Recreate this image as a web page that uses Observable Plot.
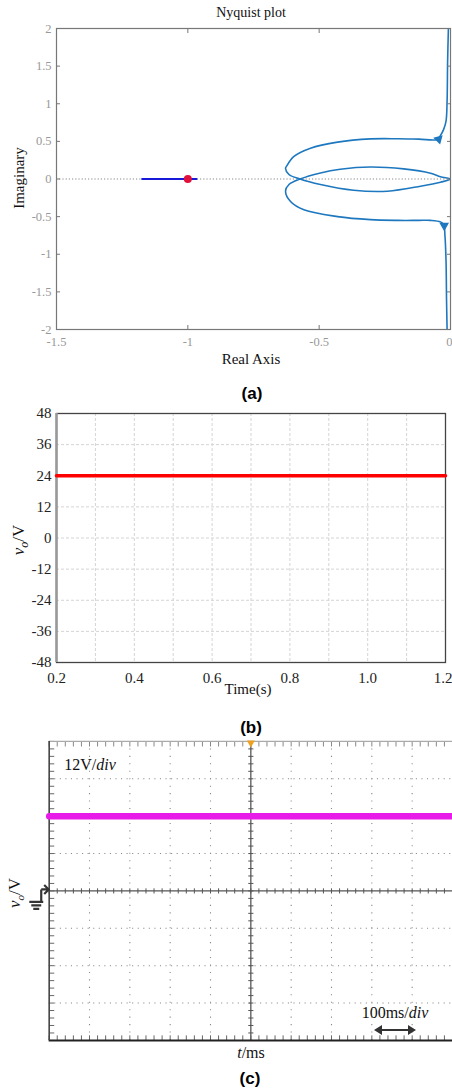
<!DOCTYPE html>
<html><head><meta charset="utf-8">
<script src="https://cdn.jsdelivr.net/npm/d3@7"></script>
<script src="https://cdn.jsdelivr.net/npm/@observablehq/plot@0.6"></script>
<style>
html,body{margin:0;padding:0;background:#fff;overflow:hidden;}
#root{position:relative;width:452px;height:1088px;overflow:hidden;background:#fff;}
.panel{position:absolute;left:0;}
.lbl{position:absolute;font-family:"Liberation Serif","Times New Roman",serif;color:#111;white-space:nowrap;transform:translate(-50%,-50%);line-height:1;}
.rot{transform:translate(-50%,-50%) rotate(-90deg);}
.cap{position:absolute;font-family:"Liberation Sans",Arial,sans-serif;font-weight:bold;font-size:17px;color:#000;transform:translate(-50%,-50%);line-height:1;}
</style>
</head><body>
<div id="root">
  <div class="panel" id="pa" style="top:0"></div>
  <div class="panel" id="pb" style="top:400px"></div>
  <div class="panel" id="pc" style="top:730px"></div>

  <div class="lbl" style="left:251px;top:13px;font-size:14px;">Nyquist plot</div>
  <div class="lbl rot" style="left:19px;top:178px;font-size:15px;">Imaginary</div>
  <div class="lbl" style="left:251px;top:359px;font-size:15px;">Real Axis</div>
  <div class="cap" style="left:252px;top:393px;">(a)</div>

  <div class="lbl rot" style="left:20px;top:540px;font-size:17px;"><i>v<sub style="font-size:12px">o</sub></i>/V</div>
  <div class="lbl" style="left:248px;top:689px;font-size:15px;">Time(s)</div>
  <div class="cap" style="left:251px;top:727px;">(b)</div>

  <div class="lbl" style="left:90px;top:765px;font-size:16px;">12V/<i>div</i></div>
  <div class="lbl rot" style="left:16px;top:893px;font-size:17px;"><i>v<sub style="font-size:11px">o</sub></i>/V</div>
  <div class="lbl" style="left:395px;top:1013px;font-size:16px;">100ms/<i>div</i></div>
  <svg style="position:absolute;left:374px;top:1024px" width="42" height="12">
    <line x1="5" y1="6" x2="37" y2="6" stroke="#333" stroke-width="2"/>
    <path d="M0,6L8,1L8,11Z M42,6L34,1L34,11Z" fill="#333"/>
  </svg>
  <div class="lbl" style="left:251px;top:1053px;font-size:16px;"><i>t</i>/ms</div>
  <div class="cap" style="left:250px;top:1078px;">(c)</div>
</div>
<script>
// ---------- Panel (a): Nyquist plot ----------
const nyqRe = [-0.008, -0.011, -0.013, -0.017, -0.026, -0.038, -0.05, -0.12, -0.2, -0.305, -0.43, -0.533, -0.596, -0.624, -0.628, -0.615, -0.573, -0.495, -0.369, -0.24, -0.114, -0.038, 0,
  -0.038, -0.076, -0.178, -0.305, -0.42, -0.495, -0.573, -0.615, -0.628, -0.609, -0.558, -0.43, -0.305, -0.2, -0.12, -0.076, -0.038, -0.026, -0.021, -0.017, -0.015, -0.013];
const nyqIm = [2.0, 1.56, 1.03, 0.77, 0.66, 0.58, 0.525, 0.53, 0.535, 0.533, 0.49, 0.41, 0.30, 0.17, 0.14, 0.06, 0, -0.073, -0.149, -0.162, -0.096, -0.043, 0,
  0.03, 0.077, 0.134, 0.16, 0.13, 0.081, 0, -0.073, -0.16, -0.3, -0.41, -0.50, -0.54, -0.55, -0.55, -0.55, -0.57, -0.605, -0.76, -1.09, -1.62, -2.0];
const arrowRe = [-0.045, -0.024];
const arrowIm = [0.53, -0.62];
const arrowRot = [165, 180];
const critSegRe = [-1.174, -0.967];
const critSegIm = [0, 0];
const critPtRe = [-1];
const critPtIm = [0];
const aXTicks = [-1.5, -1, -0.5, 0];
const aYTicks = [-2, -1.5, -1, -0.5, 0, 0.5, 1, 1.5, 2];

// ---------- Panel (b): simulation ----------
const simTime = [0.2, 0.4, 0.6, 0.8, 1.0, 1.2];
const simVo = [24, 24, 24, 24, 24, 24];
const bXTicks = [0.2, 0.4, 0.6, 0.8, 1.0, 1.2];
const bXGrid = [0.3, 0.4, 0.5, 0.6, 0.7, 0.8, 0.9, 1.0, 1.1];
const bYTicks = [-48, -36, -24, -12, 0, 12, 24, 36, 48];

// ---------- Panel (c): oscilloscope ----------
const scopeTime = [0, 200, 400, 600, 800, 1000];
const scopeVo = [24, 24, 24, 24, 24, 24];
const scopeDivT = [100, 200, 300, 400, 600, 700, 800, 900];
const scopeDivV = [-36, -24, -12, 12, 24, 36];
const scopeMinorT = d3.range(0, 1001, 20);
const scopeMinorV = d3.range(-48, 48.01, 2.4);

const serif = '"Liberation Serif","Times New Roman",serif';

const nyq = nyqRe.map((r, i) => ({re: r, im: nyqIm[i]}));
const arrows = arrowRe.map((r, i) => ({re: r, im: arrowIm[i], rot: arrowRot[i]}));
const crit = critSegRe.map((r, i) => ({re: r, im: critSegIm[i]}));
const critPt = critPtRe.map((r, i) => ({re: r, im: critPtIm[i]}));

const pa = Plot.plot({
  width: 452, height: 380,
  marginLeft: 56, marginRight: 2, marginTop: 28, marginBottom: 51,
  x: {domain: [-1.5, 0]},
  y: {domain: [-2, 2]},
  style: {fontFamily: serif, fontSize: "12.5px", background: "transparent", overflow: "visible"},
  marks: [
    Plot.ruleY([0], {stroke: "#8a8a8a", strokeWidth: 1.2, strokeDasharray: "1.2,2"}),
    Plot.line(crit, {x: "re", y: "im", stroke: "#1818d8", strokeWidth: 2}),
    Plot.dot(critPt, {x: "re", y: "im", r: 4, fill: "#e0103a", stroke: "none"}),
    Plot.line(nyq, {x: "re", y: "im", stroke: "#1e78bf", strokeWidth: 1.6, curve: "catmull-rom", clip: true}),
    Plot.dot(arrows, {x: "re", y: "im", symbol: "triangle", rotate: "rot", r: 3.6, fill: "#1e78bf", stroke: "none"}),
    Plot.frame({stroke: "#777", strokeWidth: 1.2}),
    Plot.axisX({anchor: "bottom", ticks: aXTicks, tickSize: -4, fill: "none", stroke: "#777", label: null}),
    Plot.axisX({anchor: "top", ticks: aXTicks, tickSize: -4, fill: "none", stroke: "#777", label: null}),
    Plot.axisY({anchor: "left", ticks: aYTicks, tickSize: -4, fill: "none", stroke: "#777", label: null}),
    Plot.axisY({anchor: "right", ticks: aYTicks, tickSize: -4, fill: "none", stroke: "#777", label: null}),
    Plot.axisX({anchor: "bottom", ticks: aXTicks.slice(0, -1), tickSize: 0, tickPadding: 8, stroke: "none", fill: "#999", fontFamily: serif, tickFormat: d => String(d), label: null}),
    Plot.axisX({anchor: "bottom", ticks: aXTicks.slice(-1), tickSize: 0, tickPadding: 8, stroke: "none", fill: "#999", fontFamily: serif, textAnchor: "end", dx: 2, tickFormat: d => String(d), label: null}),
    Plot.axisY({anchor: "left", ticks: aYTicks, tickSize: 0, tickPadding: 5, stroke: "none", fill: "#999", fontFamily: serif, tickFormat: d => String(d), label: null})
  ]
});
document.getElementById("pa").appendChild(pa);

const sim = simTime.map((t, i) => ({t, v: simVo[i]}));
const pb = Plot.plot({
  width: 452, height: 300,
  marginLeft: 56, marginRight: 7, marginTop: 13, marginBottom: 38,
  x: {domain: [0.2, 1.2]},
  y: {domain: [-48, 48]},
  style: {fontFamily: serif, fontSize: "15px", background: "transparent", overflow: "visible", color: "#222"},
  marks: [
    Plot.gridX(bXGrid, {stroke: "#d4d4d4", strokeOpacity: 1, strokeDasharray: "3,2"}),
    Plot.gridY(bYTicks, {stroke: "#d4d4d4", strokeOpacity: 1, strokeDasharray: "3,2"}),
    Plot.frame({stroke: "#444", strokeWidth: 1.3}),
    Plot.ruleX([bXTicks[0]], {stroke: "#999", strokeWidth: 2.5}),
    Plot.line(sim, {x: "t", y: "v", stroke: "#ff0000", strokeWidth: 3.5}),
    Plot.axisX({ticks: bXTicks.slice(0, -1), tickSize: 0, tickPadding: 10, fontFamily: serif, tickFormat: d => d.toFixed(1), label: null}),
    Plot.axisX({ticks: bXTicks.slice(-1), tickSize: 0, tickPadding: 10, fontFamily: serif, textAnchor: "end", dx: 7, tickFormat: d => d.toFixed(1), label: null}),
    Plot.axisY({ticks: bYTicks, tickSize: 0, tickPadding: 5, fontFamily: serif, tickFormat: d => String(d), label: null})
  ]
});
document.getElementById("pb").appendChild(pb);

// custom symbols
const vbar = {draw(ctx) { ctx.moveTo(0, -2.6); ctx.lineTo(0, 2.6); }};
const hbar = {draw(ctx) { ctx.moveTo(-2.6, 0); ctx.lineTo(2.6, 0); }};
const ground = {draw(ctx) {
  ctx.moveTo(-8, -1.5); ctx.lineTo(-1, -1.5);
  ctx.moveTo(-5, -6); ctx.lineTo(-0.5, -1.5); ctx.lineTo(-5, 3);
  ctx.moveTo(-8, -1.5); ctx.lineTo(-8, 11);
  ctx.moveTo(-20, 11); ctx.lineTo(-6, 11);
  ctx.moveTo(-18, 14.5); ctx.lineTo(-8, 14.5);
  ctx.moveTo(-16, 18); ctx.lineTo(-10, 18);
}};

const scope = scopeTime.map((t, i) => ({t, v: scopeVo[i]}));
const centerT = scopeMinorT.map(t => ({t, v: 0}));
const centerV = scopeMinorV.map(v => ({t: 500, v}));
const leftV = scopeMinorV.map(v => ({t: 0, v}));
const bottomT = scopeMinorT.map(t => ({t, v: -48}));
const topT = scopeMinorT.map(t => ({t, v: 48}));

const pc = Plot.plot({
  width: 455, height: 340,
  marginLeft: 49, marginRight: 0, marginTop: 11, marginBottom: 28,
  x: {domain: [0, 1000], axis: null},
  y: {domain: [-48, 48], axis: null},
  style: {fontFamily: serif, background: "transparent", overflow: "visible"},
  marks: [
    Plot.gridX(scopeDivT, {stroke: "#888", strokeOpacity: 1, strokeWidth: 1.1, strokeDasharray: "1.1,6.4"}),
    Plot.gridY(scopeDivV, {stroke: "#888", strokeOpacity: 1, strokeWidth: 1.1, strokeDasharray: "1.1,4.5"}),
    Plot.ruleY([0], {stroke: "#555", strokeWidth: 1.3}),
    Plot.ruleX([500], {stroke: "#555", strokeWidth: 1.3}),
    Plot.dot(centerT, {x: "t", y: "v", symbol: vbar, stroke: "#555", fill: "none", strokeWidth: 1}),
    Plot.dot(centerV, {x: "t", y: "v", symbol: hbar, stroke: "#555", fill: "none", strokeWidth: 1}),
    Plot.dot(leftV, {x: "t", y: "v", symbol: hbar, dx: 2.5, stroke: "#666", fill: "none", strokeWidth: 1}),
    Plot.dot(bottomT, {x: "t", y: "v", symbol: vbar, dy: -2.5, stroke: "#666", fill: "none", strokeWidth: 1}),
    Plot.dot(topT, {x: "t", y: "v", symbol: vbar, dy: 2.5, stroke: "#888", fill: "none", strokeWidth: 1}),
    Plot.ruleY([48], {stroke: "#aaa", strokeWidth: 1.2}),
    Plot.ruleY([-48], {stroke: "#222", strokeWidth: 2}),
    Plot.ruleX([0], {stroke: "#444", strokeWidth: 1.6}),
    Plot.line(scope, {x: "t", y: "v", stroke: "#e81ce8", strokeWidth: 6.5}),
    Plot.dot([{t: 500, v: 48}], {x: "t", y: "v", symbol: "triangle", rotate: 180, r: 3, dy: 1.5, fill: "#f0a020", stroke: "none"}),
    Plot.dot([{t: 0, v: 0}], {x: "t", y: "v", symbol: ground, stroke: "#333", fill: "none", strokeWidth: 2.2})
  ]
});
document.getElementById("pc").appendChild(pc);
</script>
</body></html>
